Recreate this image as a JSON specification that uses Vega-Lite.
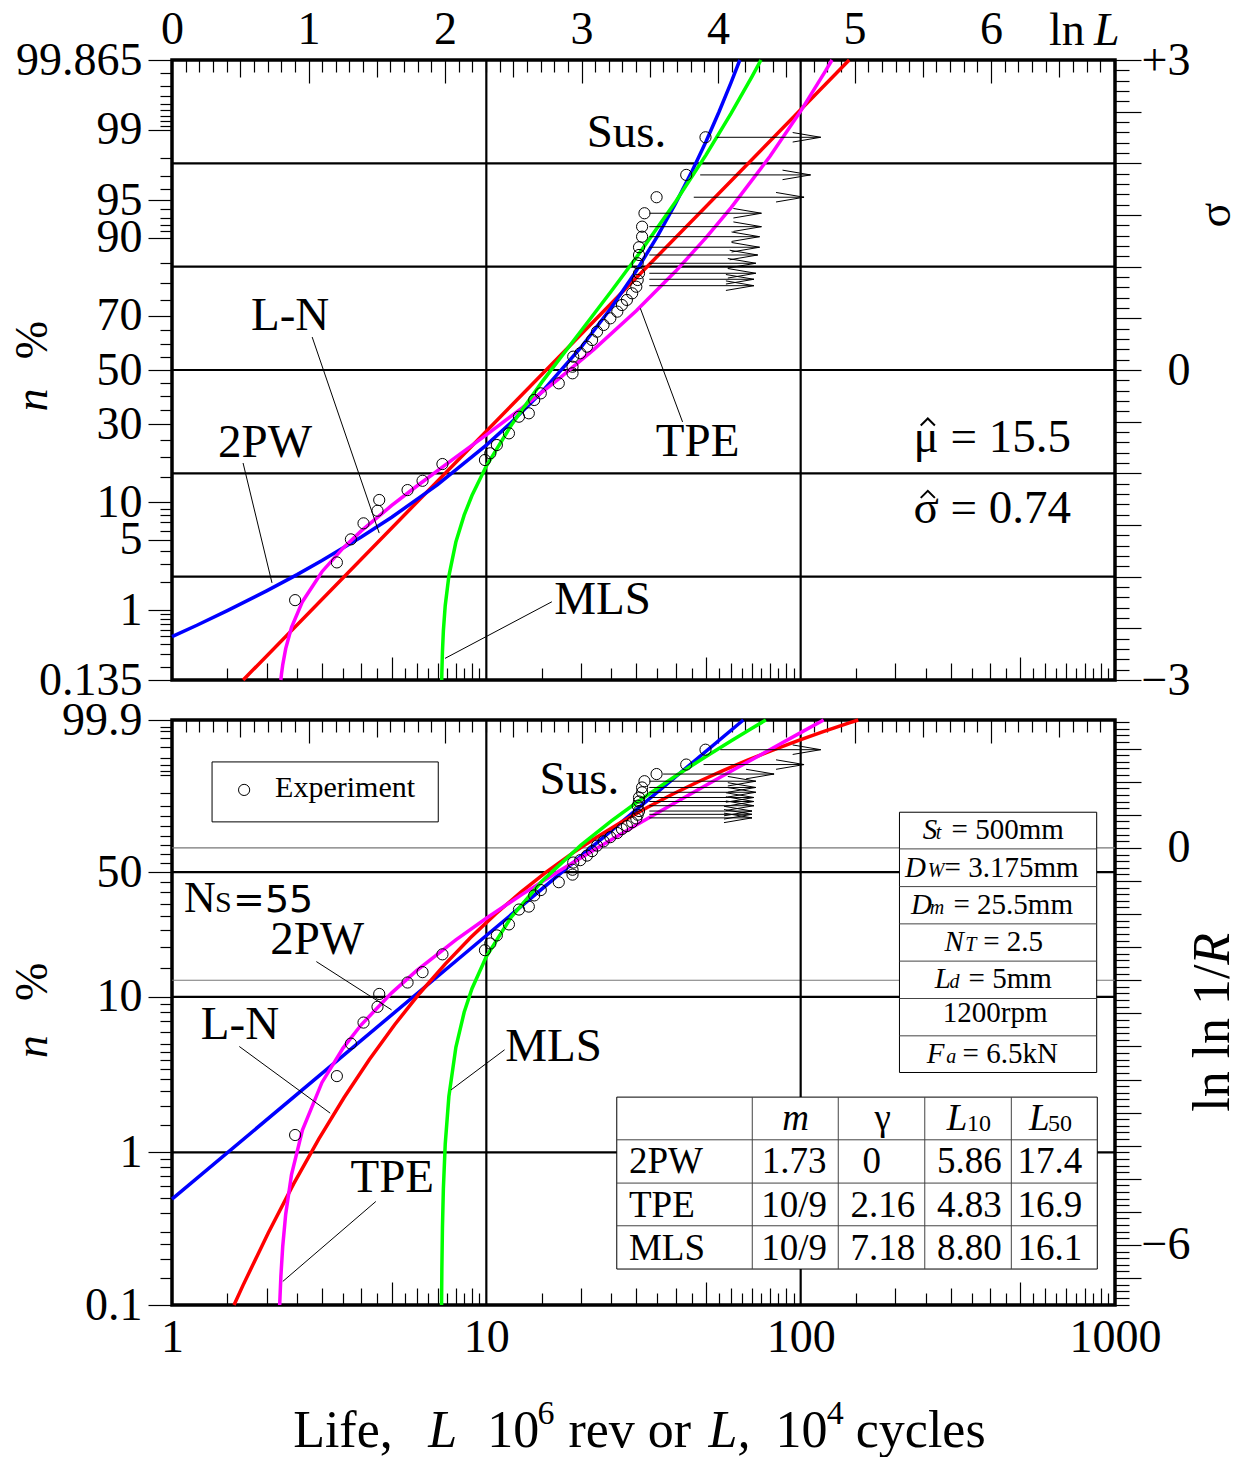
{
"$schema": "https://vega.github.io/schema/vega-lite/v6.json",
"autosize": {"type": "none"},
"padding": {"left": 172, "top": 60, "right": 1067, "bottom": 1397},
"background": "white",
"config": {
 "view": {"stroke": "black", "strokeWidth": 3.5},
 "axis": {"domain": false, "grid": false, "ticks": true, "tickColor": "black", "tickWidth": 1.2, "labels": false, "labelFont": "Liberation Serif", "labelFontSize": 46, "labelColor": "black", "labelFlush": false, "labelOverlap": false, "labelBound": false},
 "text": {"font": "Liberation Serif", "color": "black"}
},
"datasets": {
 "curves": [
  {"p":"t","c":"L-N","L":1.684,"y":-3},{"p":"t","c":"L-N","L":15.5,"y":0},{"p":"t","c":"L-N","L":142.7,"y":3},
  {"p":"t","c":"2PW","L":1,"y":-2.58},{"p":"t","c":"2PW","L":1.2,"y":-2.47},{"p":"t","c":"2PW","L":1.5,"y":-2.329},{"p":"t","c":"2PW","L":2,"y":-2.137},{"p":"t","c":"2PW","L":2.5,"y":-1.98},{"p":"t","c":"2PW","L":3,"y":-1.844},{"p":"t","c":"2PW","L":4,"y":-1.616},{"p":"t","c":"2PW","L":5,"y":-1.425},{"p":"t","c":"2PW","L":7,"y":-1.109},{"p":"t","c":"2PW","L":10,"y":-0.727},{"p":"t","c":"2PW","L":12,"y":-0.508},{"p":"t","c":"2PW","L":15,"y":-0.214},{"p":"t","c":"2PW","L":20,"y":0.218},{"p":"t","c":"2PW","L":25,"y":0.604},{"p":"t","c":"2PW","L":30,"y":0.959},{"p":"t","c":"2PW","L":35,"y":1.294},{"p":"t","c":"2PW","L":40,"y":1.611},{"p":"t","c":"2PW","L":45,"y":1.917},{"p":"t","c":"2PW","L":50,"y":2.212},{"p":"t","c":"2PW","L":55,"y":2.499},{"p":"t","c":"2PW","L":60,"y":2.778},{"p":"t","c":"2PW","L":64.04,"y":3},
  {"p":"t","c":"TPE","L":2.2191,"y":-3},{"p":"t","c":"TPE","L":2.23,"y":-2.942},{"p":"t","c":"TPE","L":2.25,"y":-2.855},{"p":"t","c":"TPE","L":2.3,"y":-2.696},{"p":"t","c":"TPE","L":2.4,"y":-2.49},{"p":"t","c":"TPE","L":2.6,"y":-2.242},{"p":"t","c":"TPE","L":3,"y":-1.952},{"p":"t","c":"TPE","L":3.5,"y":-1.724},{"p":"t","c":"TPE","L":4,"y":-1.557},{"p":"t","c":"TPE","L":5,"y":-1.311},{"p":"t","c":"TPE","L":6,"y":-1.125},{"p":"t","c":"TPE","L":8,"y":-0.844},{"p":"t","c":"TPE","L":10,"y":-0.627},{"p":"t","c":"TPE","L":13,"y":-0.366},{"p":"t","c":"TPE","L":17,"y":-0.086},{"p":"t","c":"TPE","L":22,"y":0.2},{"p":"t","c":"TPE","L":30,"y":0.573},{"p":"t","c":"TPE","L":40,"y":0.955},{"p":"t","c":"TPE","L":50,"y":1.281},{"p":"t","c":"TPE","L":60,"y":1.569},{"p":"t","c":"TPE","L":80,"y":2.07},{"p":"t","c":"TPE","L":100,"y":2.505},{"p":"t","c":"TPE","L":120,"y":2.894},{"p":"t","c":"TPE","L":125.8,"y":3},
  {"p":"t","c":"MLS","L":7.2123,"y":-3},{"p":"t","c":"MLS","L":7.22,"y":-2.926},{"p":"t","c":"MLS","L":7.25,"y":-2.728},{"p":"t","c":"MLS","L":7.3,"y":-2.525},{"p":"t","c":"MLS","L":7.4,"y":-2.279},{"p":"t","c":"MLS","L":7.6,"y":-1.994},{"p":"t","c":"MLS","L":8,"y":-1.665},{"p":"t","c":"MLS","L":8.5,"y":-1.405},{"p":"t","c":"MLS","L":9,"y":-1.2145},{"p":"t","c":"MLS","L":10,"y":-0.93},{"p":"t","c":"MLS","L":12,"y":-0.535},{"p":"t","c":"MLS","L":15,"y":-0.12},{"p":"t","c":"MLS","L":20,"y":0.378},{"p":"t","c":"MLS","L":25,"y":0.764},{"p":"t","c":"MLS","L":30,"y":1.088},{"p":"t","c":"MLS","L":40,"y":1.629},{"p":"t","c":"MLS","L":50,"y":2.082},{"p":"t","c":"MLS","L":60,"y":2.48},{"p":"t","c":"MLS","L":70,"y":2.84},{"p":"t","c":"MLS","L":74.76,"y":3},
  {"p":"b","c":"2PW","L":1,"y":-5.308},{"p":"b","c":"2PW","L":10,"y":-1.324},{"p":"b","c":"2PW","L":65.7,"y":1.9326},
  {"p":"b","c":"L-N","L":1.575,"y":-6.907},{"p":"b","c":"L-N","L":1.6835,"y":-6.607},{"p":"b","c":"L-N","L":2.0254,"y":-5.8144},{"p":"b","c":"L-N","L":2.437,"y":-5.078},{"p":"b","c":"L-N","L":2.9324,"y":-4.3982},{"p":"b","c":"L-N","L":3.528,"y":-3.772},{"p":"b","c":"L-N","L":4.2456,"y":-3.197},{"p":"b","c":"L-N","L":5.108,"y":-2.6716},{"p":"b","c":"L-N","L":6.1464,"y":-2.1923},{"p":"b","c":"L-N","L":7.395,"y":-1.7558},{"p":"b","c":"L-N","L":8.8976,"y":-1.3587},{"p":"b","c":"L-N","L":10.705,"y":-0.9971},{"p":"b","c":"L-N","L":12.882,"y":-0.6675},{"p":"b","c":"L-N","L":15.5,"y":-0.3665},{"p":"b","c":"L-N","L":18.65,"y":-0.0909},{"p":"b","c":"L-N","L":22.44,"y":0.162},{"p":"b","c":"L-N","L":27,"y":0.395},{"p":"b","c":"L-N","L":32.49,"y":0.6103},{"p":"b","c":"L-N","L":39.09,"y":0.8099},{"p":"b","c":"L-N","L":47.04,"y":0.9954},{"p":"b","c":"L-N","L":56.6,"y":1.1685},{"p":"b","c":"L-N","L":68.09,"y":1.3306},{"p":"b","c":"L-N","L":81.93,"y":1.4826},{"p":"b","c":"L-N","L":98.57,"y":1.6256},{"p":"b","c":"L-N","L":118.6,"y":1.7605},{"p":"b","c":"L-N","L":142.7,"y":1.8882},{"p":"b","c":"L-N","L":152.5,"y":1.9326},
  {"p":"b","c":"TPE","L":2.2007,"y":-6.907},{"p":"b","c":"TPE","L":2.22,"y":-6.4766},{"p":"b","c":"TPE","L":2.25,"y":-6.026},{"p":"b","c":"TPE","L":2.3,"y":-5.5351},{"p":"b","c":"TPE","L":2.4,"y":-4.9362},{"p":"b","c":"TPE","L":2.6,"y":-4.2628},{"p":"b","c":"TPE","L":3,"y":-3.5443},{"p":"b","c":"TPE","L":3.5,"y":-3.0253},{"p":"b","c":"TPE","L":4,"y":-2.673},{"p":"b","c":"TPE","L":5,"y":-2.1908},{"p":"b","c":"TPE","L":6,"y":-1.8556},{"p":"b","c":"TPE","L":8,"y":-1.3898},{"p":"b","c":"TPE","L":10,"y":-1.0626},{"p":"b","c":"TPE","L":13,"y":-0.7026},{"p":"b","c":"TPE","L":17,"y":-0.3536},{"p":"b","c":"TPE","L":22,"y":-0.0308},{"p":"b","c":"TPE","L":30,"y":0.3456},{"p":"b","c":"TPE","L":40,"y":0.6866},{"p":"b","c":"TPE","L":50,"y":0.947},{"p":"b","c":"TPE","L":60,"y":1.1579},{"p":"b","c":"TPE","L":80,"y":1.4879},{"p":"b","c":"TPE","L":100,"y":1.7421},{"p":"b","c":"TPE","L":118.3,"y":1.9326},
  {"p":"b","c":"MLS","L":7.2047,"y":-6.907},{"p":"b","c":"MLS","L":7.21,"y":-6.6892},{"p":"b","c":"MLS","L":7.22,"y":-6.3695},{"p":"b","c":"MLS","L":7.25,"y":-5.7478},{"p":"b","c":"MLS","L":7.3,"y":-5.1489},{"p":"b","c":"MLS","L":7.4,"y":-4.4753},{"p":"b","c":"MLS","L":7.6,"y":-3.7569},{"p":"b","c":"MLS","L":8,"y":-3.0135},{"p":"b","c":"MLS","L":8.5,"y":-2.4846},{"p":"b","c":"MLS","L":9,"y":-2.1277},{"p":"b","c":"MLS","L":10,"y":-1.6411},{"p":"b","c":"MLS","L":12,"y":-1.0454},{"p":"b","c":"MLS","L":15,"y":-0.5078},{"p":"b","c":"MLS","L":20,"y":0.0414},{"p":"b","c":"MLS","L":25,"y":0.4073},{"p":"b","c":"MLS","L":30,"y":0.6821},{"p":"b","c":"MLS","L":40,"y":1.086},{"p":"b","c":"MLS","L":50,"y":1.3814},{"p":"b","c":"MLS","L":60,"y":1.6147},{"p":"b","c":"MLS","L":70,"y":1.8073},{"p":"b","c":"MLS","L":77.5,"y":1.9326}
 ],
 "pts": [
  {"L":2.464,"z":-2.227,"w":-4.3386},{"L":3.346,"z":-1.862,"w":-3.4483},{"L":3.708,"z":-1.639,"w":-2.9571},{"L":4.067,"z":-1.484,"w":-2.6394},{"L":4.506,"z":-1.362,"w":-2.4015},{"L":4.563,"z":-1.258,"w":-2.207},{"L":5.615,"z":-1.162,"w":-2.034},{"L":6.267,"z":-1.072,"w":-1.8774},{"L":7.25,"z":-0.91,"w":-1.6086},{"L":9.9,"z":-0.871,"w":-1.5462},{"L":10.3,"z":-0.806,"w":-1.4444},{"L":10.8,"z":-0.726,"w":-1.3225},{"L":11.8,"z":-0.613,"w":-1.1563},{"L":12.7,"z":-0.452,"w":-0.9315},{"L":13.65,"z":-0.419,"w":-0.887},{"L":14.2,"z":-0.29,"w":-0.7182},{"L":14.9,"z":-0.226,"w":-0.6374},{"L":17,"z":-0.129,"w":-0.5185},{"L":18.8,"z":-0.032,"w":-0.4036},{"L":18.8,"z":0.032,"w":-0.3299},{"L":18.9,"z":0.129,"w":-0.2213},{"L":19.9,"z":0.162,"w":-0.1852},{"L":20.9,"z":0.226,"w":-0.1164},{"L":21.7,"z":0.29,"w":-0.0491},{"L":22.5,"z":0.371,"w":0.0341},{"L":23.6,"z":0.436,"w":0.0993},{"L":24.8,"z":0.5,"w":0.162},{"L":26.1,"z":0.565,"w":0.2244},{"L":27,"z":0.629,"w":0.2846},{"L":28,"z":0.678,"w":0.3298},{"L":29.1,"z":0.742,"w":0.3878},{"L":30,"z":0.806,"w":0.4447},{"L":30.3,"z":0.871,"w":0.5013},{"L":30.6,"z":0.936,"w":0.5568},{"L":30.3,"z":1.033,"w":0.6375},{"L":30.6,"z":1.113,"w":0.701},{"L":30.6,"z":1.188,"w":0.7617},{"L":31.3,"z":1.29,"w":0.8404},{"L":31.3,"z":1.387,"w":0.9132},{"L":31.85,"z":1.517,"w":1.0076},{"L":34.8,"z":1.672,"w":1.1158},{"L":43.25,"z":1.888,"w":1.2593},{"L":49.8,"z":2.252,"w":1.4838}
 ],
 "arrows": [
  {"z":2.252,"w":1.4838,"a0":54.1,"a1":115.8,"b0":55.5,"b1":115.8},{"z":1.888,"w":1.2593,"a0":47.9,"a1":107.5,"b0":49.1,"b1":102.5},{"z":1.672,"w":1.1158,"a0":45.7,"a1":102.5,"b0":36.5,"b1":82.3},{"z":1.517,"w":1.0076,"a0":33,"a1":75,"b0":33,"b1":72},{"z":1.387,"w":0.9132,"a0":33,"a1":75,"b0":33,"b1":72},{"z":1.29,"w":0.8404,"a0":33,"a1":74,"b0":33,"b1":72},{"z":1.188,"w":0.7617,"a0":33,"a1":74,"b0":33,"b1":71},{"z":1.113,"w":0.701,"a0":33,"a1":73,"b0":33,"b1":71},{"z":1.033,"w":0.6375,"a0":33,"a1":72,"b0":33,"b1":71},{"z":0.936,"w":0.5568,"a0":33,"a1":72,"b0":33,"b1":70},{"z":0.878,"w":0.5074,"a0":33,"a1":71,"b0":33,"b1":70},{"z":0.816,"w":0.4535,"a0":33,"a1":71,"b0":33,"b1":70}
 ],
 "labels": [
  {"p":"t","t":"Sus.","L":27.92,"y":2.294},{"p":"t","t":"L-N","L":2.376,"y":0.523},{"p":"t","t":"2PW","L":1.978,"y":-0.707},{"p":"t","t":"TPE","L":46.99,"y":-0.697},{"p":"t","t":"MLS","L":23.41,"y":-2.227},
  {"p":"b","t":"Sus.","L":19.78,"y":1.027},{"p":"b","t":"2PW","L":2.896,"y":-1.39},{"p":"b","t":"L-N","L":1.646,"y":-2.674},{"p":"b","t":"MLS","L":16.35,"y":-3.006},{"p":"b","t":"TPE","L":5.018,"y":-4.985}
 ],
 "leaders": [
  {"p":"t","x1":2.792,"y1":0.319,"x2":4.562,"y2":-1.578},{"p":"t","x1":1.683,"y1":-0.9,"x2":2.08,"y2":-2.06},{"p":"t","x1":16.16,"y1":-2.243,"x2":7.388,"y2":-2.791},{"p":"t","x1":30.9,"y1":0.597,"x2":42.1,"y2":-0.503},
  {"p":"b","x1":2.879,"y1":-1.718,"x2":4.994,"y2":-2.447},{"p":"b","x1":1.637,"y1":-3.001,"x2":3.186,"y2":-4.008},{"p":"b","x1":11.43,"y1":-3.051,"x2":7.727,"y2":-3.656},{"p":"b","x1":4.451,"y1":-5.343,"x2":2.252,"y2":-6.551}
 ]
},
"spacing": 40,
"bounds": "flush",
"vconcat": [
 {
  "width": 943, "height": 620,
  "resolve": {"axis": {"x": "independent", "y": "independent"}},
  "layer": [
   {"data": {"values": [{"z":-2},{"z":-1},{"z":0},{"z":1},{"z":2}]}, "mark": {"type": "rule", "color": "black", "strokeWidth": 2.2}, "encoding": {"y": {"field": "z", "type": "quantitative", "scale": {"domain":[-3,3],"nice":false,"zero":false}, "axis": null}}},
   {"data": {"values": [{"L":10},{"L":100}]}, "mark": {"type": "rule", "color": "black", "strokeWidth": 2.2}, "encoding": {"x": {"field": "L", "type": "quantitative", "scale": {"type":"log","domain":[1,1000],"nice":false}, "axis": null}}},
   {"data": {"name": "curves"}, "transform": [{"filter": "datum.p=='t'"}], "mark": {"type": "line", "strokeWidth": 3.5}, "encoding": {"x": {"field": "L", "type": "quantitative", "scale": {"type":"log","domain":[1,1000],"nice":false}, "axis": null}, "y": {"field": "y", "type": "quantitative", "scale": {"domain":[-3,3],"nice":false,"zero":false}, "axis": null}, "color": {"field": "c", "type": "nominal", "scale": {"domain": ["L-N","TPE","MLS","2PW"], "range": ["#ff0000","#ff00ff","#00ff00","#0000ff"]}, "legend": null}}},
   {"data": {"name": "leaders"}, "transform": [{"filter": "datum.p=='t'"}], "mark": {"type": "rule", "color": "black", "strokeWidth": 1}, "encoding": {"x": {"field": "x1", "type": "quantitative", "scale": {"type":"log","domain":[1,1000],"nice":false}, "axis": null}, "x2": {"field": "x2"}, "y": {"field": "y1", "type": "quantitative", "scale": {"domain":[-3,3],"nice":false,"zero":false}, "axis": null}, "y2": {"field": "y2"}}},
   {"data": {"name": "arrows"}, "mark": {"type": "rule", "color": "black", "strokeWidth": 1}, "encoding": {"x": {"field": "a0", "type": "quantitative", "scale": {"type":"log","domain":[1,1000],"nice":false}, "axis": null}, "x2": {"field": "a1"}, "y": {"field": "z", "type": "quantitative", "scale": {"domain":[-3,3],"nice":false,"zero":false}, "axis": null}}},
   {"data": {"name": "arrows"}, "mark": {"type": "point", "shape": "M-1,-0.17L0,0L-1,0.17", "size": 3136, "filled": false, "color": "black", "strokeWidth": 1, "opacity": 1}, "encoding": {"x": {"field": "a1", "type": "quantitative", "scale": {"type":"log","domain":[1,1000],"nice":false}, "axis": null}, "y": {"field": "z", "type": "quantitative", "scale": {"domain":[-3,3],"nice":false,"zero":false}, "axis": null}}},
   {"data": {"name": "pts"}, "mark": {"type": "point", "shape": "circle", "size": 125, "filled": false, "color": "black", "strokeWidth": 1, "opacity": 1}, "encoding": {"x": {"field": "L", "type": "quantitative", "scale": {"type":"log","domain":[1,1000],"nice":false}, "axis": null}, "y": {"field": "z", "type": "quantitative", "scale": {"domain":[-3,3],"nice":false,"zero":false}, "axis": null}}},
   {"data": {"name": "labels"}, "transform": [{"filter": "datum.p=='t'"}], "mark": {"type": "text", "fontSize": 47, "align": "center", "baseline": "middle"}, "encoding": {"x": {"field": "L", "type": "quantitative", "scale": {"type":"log","domain":[1,1000],"nice":false}, "axis": null}, "y": {"field": "y", "type": "quantitative", "scale": {"domain":[-3,3],"nice":false,"zero":false}, "axis": null}, "text": {"field": "t"}}},
   {"data": {"values": [{"t":"μ = 15.5","L":724.4,"y":-0.794},{"t":"σ = 0.74","L":724.4,"y":-1.481}]}, "mark": {"type": "text", "fontSize": 47, "align": "right", "baseline": "alphabetic"}, "encoding": {"x": {"field": "L", "type": "quantitative", "scale": {"type":"log","domain":[1,1000],"nice":false}, "axis": null}, "y": {"field": "y", "type": "quantitative", "scale": {"domain":[-3,3],"nice":false,"zero":false}, "axis": null}, "text": {"field": "t"}}},
   {"data": {"values": [{"L":253.8,"y":-0.5},{"L":253.8,"y":-1.2}]}, "mark": {"type": "point", "shape": "M-1,0.55L0,-0.45L1,0.55", "size": 200, "filled": false, "color": "black", "strokeWidth": 2, "opacity": 1}, "encoding": {"x": {"field": "L", "type": "quantitative", "scale": {"type":"log","domain":[1,1000],"nice":false}, "axis": null}, "y": {"field": "y", "type": "quantitative", "scale": {"domain":[-3,3],"nice":false,"zero":false}, "axis": null}}},
   {"data": {"values": [{"t":"n","L":0.3609,"y":-0.29}]}, "mark": {"type": "text", "fontSize": 46, "fontStyle": "italic", "angle": 270, "align": "center", "baseline": "middle"}, "encoding": {"x": {"field": "L", "type": "quantitative", "scale": {"type":"log","domain":[1,1000],"nice":false}, "axis": null}, "y": {"field": "y", "type": "quantitative", "scale": {"domain":[-3,3],"nice":false,"zero":false}, "axis": null}, "text": {"field": "t"}}},
   {"data": {"values": [{"t":"%","L":0.3609,"y":0.29},{"t":"σ","L":2097,"y":1.5}]}, "mark": {"type": "text", "fontSize": 46, "angle": 270, "align": "center", "baseline": "middle"}, "encoding": {"x": {"field": "L", "type": "quantitative", "scale": {"type":"log","domain":[1,1000],"nice":false}, "axis": null}, "y": {"field": "y", "type": "quantitative", "scale": {"domain":[-3,3],"nice":false,"zero":false}, "axis": null}, "text": {"field": "t"}}},
   {"data": {"values": [{"t":"ln","L":616.4,"y":3.146}]}, "mark": {"type": "text", "fontSize": 46, "align": "left", "baseline": "alphabetic"}, "encoding": {"x": {"field": "L", "type": "quantitative", "scale": {"type":"log","domain":[1,1000],"nice":false}, "axis": null}, "y": {"field": "y", "type": "quantitative", "scale": {"domain":[-3,3],"nice":false,"zero":false}, "axis": null}, "text": {"field": "t"}}},
   {"data": {"values": [{"t":"L","L":857.4,"y":3.146}]}, "mark": {"type": "text", "fontSize": 46, "fontStyle": "italic", "align": "left", "baseline": "alphabetic"}, "encoding": {"x": {"field": "L", "type": "quantitative", "scale": {"type":"log","domain":[1,1000],"nice":false}, "axis": null}, "y": {"field": "y", "type": "quantitative", "scale": {"domain":[-3,3],"nice":false,"zero":false}, "axis": null}, "text": {"field": "t"}}},
   {"data": {"values": [{}]}, "mark": {"type": "point", "opacity": 0}, "encoding": {"x": {"datum": 1, "type": "quantitative", "scale": {"type":"log","domain":[1,1000],"nice":false}, "axis": {"orient": "bottom", "title": null, "values": [1.5,2.5,3.5,4.5,5.5,6.5,7.5,8.5,9.5,15,25,35,45,55,65,75,85,95,150,250,350,450,550,650,750,850,950], "tickSize": -12}}, "y": {"datum": 0, "type": "quantitative", "scale": {"domain":[-3,3],"nice":false,"zero":false}, "axis": null}}},
   {"data": {"values": [{}]}, "mark": {"type": "point", "opacity": 0}, "encoding": {"x": {"datum": 1, "type": "quantitative", "scale": {"type":"log","domain":[1,1000],"nice":false}, "axis": {"orient": "bottom", "title": null, "values": [2,3,4,6,7,8,9,20,30,40,60,70,80,90,200,300,400,600,700,800,900], "tickSize": -17}}, "y": {"datum": 0, "type": "quantitative", "scale": {"domain":[-3,3],"nice":false,"zero":false}, "axis": null}}},
   {"data": {"values": [{}]}, "mark": {"type": "point", "opacity": 0}, "encoding": {"x": {"datum": 1, "type": "quantitative", "scale": {"type":"log","domain":[1,1000],"nice":false}, "axis": {"orient": "bottom", "title": null, "values": [5,50,500], "tickSize": -23}}, "y": {"datum": 0, "type": "quantitative", "scale": {"domain":[-3,3],"nice":false,"zero":false}, "axis": null}}},
   {"data": {"values": [{}]}, "mark": {"type": "point", "opacity": 0}, "encoding": {"x": {"datum": 1, "type": "quantitative", "scale": {"type":"log","domain":[1,1000],"nice":false}, "axis": {"orient": "top", "title": null, "values": [1.1052,1.2214,1.3499,1.4918,1.8221,2.0138,2.2255,2.4596,3.0042,3.3201,3.6693,4.0552,4.953,5.4739,6.0496,6.6859,8.1662,9.025,9.9742,11.0232,13.4637,14.8797,16.4446,18.1741,22.198,24.5325,27.1126,29.9641,36.5982,40.4473,44.7012,49.4024,60.3403,66.6863,73.6998,81.4509,99.4843,109.9472,121.5104,134.2898,164.0219,181.2722,200.3368,221.4064,270.4264,298.8674,330.2996,365.0375,445.8578,492.749,544.5719,601.845,735.0952,812.4058,897.8473,992.2747], "tickSize": -12}}, "y": {"datum": 0, "type": "quantitative", "scale": {"domain":[-3,3],"nice":false,"zero":false}, "axis": null}}},
   {"data": {"values": [{}]}, "mark": {"type": "point", "opacity": 0}, "encoding": {"x": {"datum": 1, "type": "quantitative", "scale": {"type":"log","domain":[1,1000],"nice":false}, "axis": {"orient": "top", "title": null, "values": [1.6487,4.4817,12.1825,33.1155,90.0171,244.6919,665.1416], "tickSize": -17}}, "y": {"datum": 0, "type": "quantitative", "scale": {"domain":[-3,3],"nice":false,"zero":false}, "axis": null}}},
   {"data": {"values": [{}]}, "mark": {"type": "point", "opacity": 0}, "encoding": {"x": {"datum": 1, "type": "quantitative", "scale": {"type":"log","domain":[1,1000],"nice":false}, "axis": {"orient": "top", "title": null, "values": [2.7183,7.3891,20.0855,54.5982,148.4132,403.4288], "tickSize": -23}}, "y": {"datum": 0, "type": "quantitative", "scale": {"domain":[-3,3],"nice":false,"zero":false}, "axis": null}}},
   {"data": {"values": [{}]}, "mark": {"type": "point", "opacity": 0}, "encoding": {"x": {"datum": 1, "type": "quantitative", "scale": {"type":"log","domain":[1,1000],"nice":false}, "axis": {"orient": "top", "title": null, "values": [1,2.7183,7.3891,20.0855,54.5982,148.4132,403.4288], "ticks": false, "labels": true, "labelPadding": 7, "labelExpr": "format(log(datum.value), '.0f')"}}, "y": {"datum": 0, "type": "quantitative", "scale": {"domain":[-3,3],"nice":false,"zero":false}, "axis": null}}},
   {"data": {"values": [{}]}, "mark": {"type": "point", "opacity": 0}, "encoding": {"x": {"datum": 1, "type": "quantitative", "scale": {"type":"log","domain":[1,1000],"nice":false}, "axis": null}, "y": {"datum": 0, "type": "quantitative", "scale": {"domain":[-3,3],"nice":false,"zero":false}, "axis": {"orient": "left", "title": null, "values": [2.8782,2.7478,2.6521,2.5758,2.5121,2.4573,2.4089,2.3656,2.0537,1.8808,1.7507,1.5548,1.4758,1.4051,1.3408,1.0364,0.8416,0.6745,0.3853,0.2533,0.1257,-0.1257,-0.2533,-0.3853,-0.6745,-0.8416,-1.0364,-1.3408,-1.4051,-1.4758,-1.5548,-1.7507,-1.8808,-2.0537,-2.3656,-2.4089,-2.4573,-2.5121,-2.5758,-2.6521,-2.7478,-2.8782], "tickSize": 12}}}},
   {"data": {"values": [{}]}, "mark": {"type": "point", "opacity": 0}, "encoding": {"x": {"datum": 1, "type": "quantitative", "scale": {"type":"log","domain":[1,1000],"nice":false}, "axis": null}, "y": {"datum": 0, "type": "quantitative", "scale": {"domain":[-3,3],"nice":false,"zero":false}, "axis": {"orient": "left", "title": null, "values": [3,2.3263,1.6449,1.2816,0.5244,0,-0.5244,-1.2816,-1.6449,-2.3263,-3], "tickSize": 24, "labels": true, "labelPadding": 6, "labelExpr": "['99.865','99','95','90','70','50','30','10','5','1','0.135'][indexof([3,2.3263,1.6449,1.2816,0.5244,0,-0.5244,-1.2816,-1.6449,-2.3263,-3], datum.value)]"}}}},
   {"data": {"values": [{}]}, "mark": {"type": "point", "opacity": 0}, "encoding": {"x": {"datum": 1, "type": "quantitative", "scale": {"type":"log","domain":[1,1000],"nice":false}, "axis": null}, "y": {"datum": 0, "type": "quantitative", "scale": {"domain":[-3,3],"nice":false,"zero":false}, "axis": {"orient": "right", "title": null, "values": [-2.9,-2.8,-2.7,-2.6,-2.4,-2.3,-2.2,-2.1,-1.9,-1.8,-1.7,-1.6,-1.4,-1.3,-1.2,-1.1,-0.9,-0.8,-0.7,-0.6,-0.4,-0.3,-0.2,-0.1,0.1,0.2,0.3,0.4,0.6,0.7,0.8,0.9,1.1,1.2,1.3,1.4,1.6,1.7,1.8,1.9,2.1,2.2,2.3,2.4,2.6,2.7,2.8,2.9], "tickSize": 14}}}},
   {"data": {"values": [{}]}, "mark": {"type": "point", "opacity": 0}, "encoding": {"x": {"datum": 1, "type": "quantitative", "scale": {"type":"log","domain":[1,1000],"nice":false}, "axis": null}, "y": {"datum": 0, "type": "quantitative", "scale": {"domain":[-3,3],"nice":false,"zero":false}, "axis": {"orient": "right", "title": null, "values": [-3,-2.5,-2,-1.5,-1,-0.5,0,0.5,1,1.5,2,2.5,3], "tickSize": 26, "labels": true, "labelAlign": "right", "labelPadding": 49, "labelExpr": "datum.value == 3 ? '+3' : datum.value == 0 ? '0' : datum.value == -3 ? '−3' : ''"}}}}
  ]
 },
 {
  "width": 943, "height": 585,
  "resolve": {"axis": {"x": "independent", "y": "independent"}},
  "layer": [
   {"data": {"values": [{"w":0},{"w":-2}]}, "mark": {"type": "rule", "color": "#777777", "strokeWidth": 1.2}, "encoding": {"y": {"field": "w", "type": "quantitative", "scale": {"domain":[-6.9073,1.9326],"nice":false,"zero":false}, "axis": null}}},
   {"data": {"values": [{"w":-0.3665},{"w":-2.2504},{"w":-4.6002}]}, "mark": {"type": "rule", "color": "black", "strokeWidth": 2.2}, "encoding": {"y": {"field": "w", "type": "quantitative", "scale": {"domain":[-6.9073,1.9326],"nice":false,"zero":false}, "axis": null}}},
   {"data": {"values": [{"L":10},{"L":100}]}, "mark": {"type": "rule", "color": "black", "strokeWidth": 2.2}, "encoding": {"x": {"field": "L", "type": "quantitative", "scale": {"type":"log","domain":[1,1000],"nice":false}, "axis": null}}},
   {"data": {"name": "curves"}, "transform": [{"filter": "datum.p=='b'"}], "mark": {"type": "line", "strokeWidth": 3.5}, "encoding": {"x": {"field": "L", "type": "quantitative", "scale": {"type":"log","domain":[1,1000],"nice":false}, "axis": null}, "y": {"field": "y", "type": "quantitative", "scale": {"domain":[-6.9073,1.9326],"nice":false,"zero":false}, "axis": null}, "color": {"field": "c", "type": "nominal", "scale": {"domain": ["L-N","TPE","MLS","2PW"], "range": ["#ff0000","#ff00ff","#00ff00","#0000ff"]}, "legend": null}}},
   {"data": {"name": "leaders"}, "transform": [{"filter": "datum.p=='b'"}], "mark": {"type": "rule", "color": "black", "strokeWidth": 1}, "encoding": {"x": {"field": "x1", "type": "quantitative", "scale": {"type":"log","domain":[1,1000],"nice":false}, "axis": null}, "x2": {"field": "x2"}, "y": {"field": "y1", "type": "quantitative", "scale": {"domain":[-6.9073,1.9326],"nice":false,"zero":false}, "axis": null}, "y2": {"field": "y2"}}},
   {"data": {"name": "arrows"}, "mark": {"type": "rule", "color": "black", "strokeWidth": 1}, "encoding": {"x": {"field": "b0", "type": "quantitative", "scale": {"type":"log","domain":[1,1000],"nice":false}, "axis": null}, "x2": {"field": "b1"}, "y": {"field": "w", "type": "quantitative", "scale": {"domain":[-6.9073,1.9326],"nice":false,"zero":false}, "axis": null}}},
   {"data": {"name": "arrows"}, "mark": {"type": "point", "shape": "M-1,-0.17L0,0L-1,0.17", "size": 3136, "filled": false, "color": "black", "strokeWidth": 1, "opacity": 1}, "encoding": {"x": {"field": "b1", "type": "quantitative", "scale": {"type":"log","domain":[1,1000],"nice":false}, "axis": null}, "y": {"field": "w", "type": "quantitative", "scale": {"domain":[-6.9073,1.9326],"nice":false,"zero":false}, "axis": null}}},
   {"data": {"name": "pts"}, "mark": {"type": "point", "shape": "circle", "size": 125, "filled": false, "color": "black", "strokeWidth": 1, "opacity": 1}, "encoding": {"x": {"field": "L", "type": "quantitative", "scale": {"type":"log","domain":[1,1000],"nice":false}, "axis": null}, "y": {"field": "w", "type": "quantitative", "scale": {"domain":[-6.9073,1.9326],"nice":false,"zero":false}, "axis": null}}},
   {"data": {"values": [{"x1":1.341,"x2":7.032,"y1":1.299,"y2":0.393},{"x1":206.2,"x2":874.5,"y1":0.539,"y2":-3.394},{"x1":26.0,"x2":878.3,"y1":-3.766,"y2":-6.364}]}, "mark": {"type": "rect", "fill": "white", "stroke": "black", "strokeWidth": 1}, "encoding": {"x": {"field": "x1", "type": "quantitative", "scale": {"type":"log","domain":[1,1000],"nice":false}, "axis": null}, "x2": {"field": "x2"}, "y": {"field": "y1", "type": "quantitative", "scale": {"domain":[-6.9073,1.9326],"nice":false,"zero":false}, "axis": null}, "y2": {"field": "y2"}}},
   {"data": {"values": [{"x1":206.2,"x2":874.5,"y1":-0.0151,"y2":-0.0151},{"x1":206.2,"x2":874.5,"y1":-0.585,"y2":-0.585},{"x1":206.2,"x2":874.5,"y1":-1.148,"y2":-1.148},{"x1":206.2,"x2":874.5,"y1":-1.711,"y2":-1.711},{"x1":206.2,"x2":874.5,"y1":-2.276,"y2":-2.276},{"x1":206.2,"x2":874.5,"y1":-2.84,"y2":-2.84},{"x1":70.15,"x2":70.15,"y1":-3.766,"y2":-6.364},{"x1":131.7,"x2":131.7,"y1":-3.766,"y2":-6.364},{"x1":248.2,"x2":248.2,"y1":-3.766,"y2":-6.364},{"x1":467.9,"x2":467.9,"y1":-3.766,"y2":-6.364},{"x1":26.0,"x2":878.3,"y1":-4.411,"y2":-4.411},{"x1":26.0,"x2":878.3,"y1":-5.065,"y2":-5.065},{"x1":26.0,"x2":878.3,"y1":-5.71,"y2":-5.71}]}, "mark": {"type": "rule", "color": "#444444", "strokeWidth": 1}, "encoding": {"x": {"field": "x1", "type": "quantitative", "scale": {"type":"log","domain":[1,1000],"nice":false}, "axis": null}, "x2": {"field": "x2"}, "y": {"field": "y1", "type": "quantitative", "scale": {"domain":[-6.9073,1.9326],"nice":false,"zero":false}, "axis": null}, "y2": {"field": "y2"}}},
   {"data": {"values": [{"L":1.696,"w":0.876}]}, "mark": {"type": "point", "shape": "circle", "size": 125, "filled": false, "color": "black", "strokeWidth": 1, "opacity": 1}, "encoding": {"x": {"field": "L", "type": "quantitative", "scale": {"type":"log","domain":[1,1000],"nice":false}, "axis": null}, "y": {"field": "w", "type": "quantitative", "scale": {"domain":[-6.9073,1.9326],"nice":false,"zero":false}, "axis": null}}},
   {"data": {"values": [{"t":"Experiment","L":2.128,"y":0.906}]}, "mark": {"type": "text", "fontSize": 30, "align": "left", "baseline": "middle"}, "encoding": {"x": {"field": "L", "type": "quantitative", "scale": {"type":"log","domain":[1,1000],"nice":false}, "axis": null}, "y": {"field": "y", "type": "quantitative", "scale": {"domain":[-6.9073,1.9326],"nice":false,"zero":false}, "axis": null}, "text": {"field": "t"}}},
   {"data": {"name": "labels"}, "transform": [{"filter": "datum.p=='b'"}], "mark": {"type": "text", "fontSize": 47, "align": "center", "baseline": "middle"}, "encoding": {"x": {"field": "L", "type": "quantitative", "scale": {"type":"log","domain":[1,1000],"nice":false}, "axis": null}, "y": {"field": "y", "type": "quantitative", "scale": {"domain":[-6.9073,1.9326],"nice":false,"zero":false}, "axis": null}, "text": {"field": "t"}}},
   {"data": {"values": [{"t":"N","L":1.092,"y":-0.962}]}, "mark": {"type": "text", "fontSize": 44, "align": "left", "baseline": "alphabetic"}, "encoding": {"x": {"field": "L", "type": "quantitative", "scale": {"type":"log","domain":[1,1000],"nice":false}, "axis": null}, "y": {"field": "y", "type": "quantitative", "scale": {"domain":[-6.9073,1.9326],"nice":false,"zero":false}, "axis": null}, "text": {"field": "t"}}},
   {"data": {"values": [{"t":"S","L":1.371,"y":-0.962}]}, "mark": {"type": "text", "fontSize": 30, "align": "left", "baseline": "alphabetic"}, "encoding": {"x": {"field": "L", "type": "quantitative", "scale": {"type":"log","domain":[1,1000],"nice":false}, "axis": null}, "y": {"field": "y", "type": "quantitative", "scale": {"domain":[-6.9073,1.9326],"nice":false,"zero":false}, "axis": null}, "text": {"field": "t"}}},
   {"data": {"values": [{"t":"=55","L":1.564,"y":-0.962}]}, "mark": {"type": "text", "fontSize": 38, "font": "DejaVu Sans", "align": "left", "baseline": "alphabetic"}, "encoding": {"x": {"field": "L", "type": "quantitative", "scale": {"type":"log","domain":[1,1000],"nice":false}, "axis": null}, "y": {"field": "y", "type": "quantitative", "scale": {"domain":[-6.9073,1.9326],"nice":false,"zero":false}, "axis": null}, "text": {"field": "t"}}},
   {"data": {"values": [{"t":"S","L":244.6,"y":0.131},{"t":"D","L":214.9,"y":-0.434},{"t":"D","L":224.4,"y":-0.997},{"t":"N","L":286.8,"y":-1.551},{"t":"L","L":267.0,"y":-2.119},{"t":"F","L":251.9,"y":-3.252}]}, "mark": {"type": "text", "fontSize": 29, "fontStyle": "italic", "align": "left", "baseline": "alphabetic"}, "encoding": {"x": {"field": "L", "type": "quantitative", "scale": {"type":"log","domain":[1,1000],"nice":false}, "axis": null}, "y": {"field": "y", "type": "quantitative", "scale": {"domain":[-6.9073,1.9326],"nice":false,"zero":false}, "axis": null}, "text": {"field": "t"}}},
   {"data": {"values": [{"t":"t","L":268.9,"y":0.131},{"t":"W","L":253.7,"y":-0.434},{"t":"m","L":257.5,"y":-0.997},{"t":"T","L":334.0,"y":-1.551},{"t":"d","L":297.4,"y":-2.119},{"t":"a","L":290.5,"y":-3.252}]}, "mark": {"type": "text", "fontSize": 20, "fontStyle": "italic", "align": "left", "baseline": "alphabetic"}, "encoding": {"x": {"field": "L", "type": "quantitative", "scale": {"type":"log","domain":[1,1000],"nice":false}, "axis": null}, "y": {"field": "y", "type": "quantitative", "scale": {"domain":[-6.9073,1.9326],"nice":false,"zero":false}, "axis": null}, "text": {"field": "t"}}},
   {"data": {"values": [{"t":"= 500mm","L":302.0,"y":0.131},{"t":"= 3.175mm","L":287.0,"y":-0.434},{"t":"= 25.5mm","L":306.3,"y":-0.997},{"t":"= 2.5","L":380.6,"y":-1.551},{"t":"= 5mm","L":342.0,"y":-2.119},{"t":"= 6.5kN","L":327.5,"y":-3.252}]}, "mark": {"type": "text", "fontSize": 29, "align": "left", "baseline": "alphabetic"}, "encoding": {"x": {"field": "L", "type": "quantitative", "scale": {"type":"log","domain":[1,1000],"nice":false}, "axis": null}, "y": {"field": "y", "type": "quantitative", "scale": {"domain":[-6.9073,1.9326],"nice":false,"zero":false}, "axis": null}, "text": {"field": "t"}}},
   {"data": {"values": [{"t":"1200rpm","L":415.7,"y":-2.624}]}, "mark": {"type": "text", "fontSize": 29, "align": "center", "baseline": "alphabetic"}, "encoding": {"x": {"field": "L", "type": "quantitative", "scale": {"type":"log","domain":[1,1000],"nice":false}, "axis": null}, "y": {"field": "y", "type": "quantitative", "scale": {"domain":[-6.9073,1.9326],"nice":false,"zero":false}, "axis": null}, "text": {"field": "t"}}},
   {"data": {"values": [{"t":"2PW","L":28.43,"y":-4.914},{"t":"TPE","L":28.43,"y":-5.57},{"t":"MLS","L":28.43,"y":-6.224}]}, "mark": {"type": "text", "fontSize": 37, "align": "left", "baseline": "alphabetic"}, "encoding": {"x": {"field": "L", "type": "quantitative", "scale": {"type":"log","domain":[1,1000],"nice":false}, "axis": null}, "y": {"field": "y", "type": "quantitative", "scale": {"domain":[-6.9073,1.9326],"nice":false,"zero":false}, "axis": null}, "text": {"field": "t"}}},
   {"data": {"values": [{"t":"1.73","L":95.3,"y":-4.914},{"t":"0","L":168.3,"y":-4.914},{"t":"5.86","L":344.3,"y":-4.914},{"t":"17.4","L":620.9,"y":-4.914},{"t":"10/9","L":95.3,"y":-5.57},{"t":"2.16","L":182.5,"y":-5.57},{"t":"4.83","L":344.3,"y":-5.57},{"t":"16.9","L":620.9,"y":-5.57},{"t":"10/9","L":95.3,"y":-6.224},{"t":"7.18","L":182.5,"y":-6.224},{"t":"8.80","L":344.3,"y":-6.224},{"t":"16.1","L":620.9,"y":-6.224},{"t":"γ","L":182.5,"y":-4.26}]}, "mark": {"type": "text", "fontSize": 37, "align": "center", "baseline": "alphabetic"}, "encoding": {"x": {"field": "L", "type": "quantitative", "scale": {"type":"log","domain":[1,1000],"nice":false}, "axis": null}, "y": {"field": "y", "type": "quantitative", "scale": {"domain":[-6.9073,1.9326],"nice":false,"zero":false}, "axis": null}, "text": {"field": "t"}}},
   {"data": {"values": [{"t":"m","L":96.4,"y":-4.26}]}, "mark": {"type": "text", "fontSize": 37, "fontStyle": "italic", "align": "center", "baseline": "alphabetic"}, "encoding": {"x": {"field": "L", "type": "quantitative", "scale": {"type":"log","domain":[1,1000],"nice":false}, "axis": null}, "y": {"field": "y", "type": "quantitative", "scale": {"domain":[-6.9073,1.9326],"nice":false,"zero":false}, "axis": null}, "text": {"field": "t"}}},
   {"data": {"values": [{"t":"L","L":291.7,"y":-4.26},{"t":"L","L":532.2,"y":-4.26}]}, "mark": {"type": "text", "fontSize": 37, "fontStyle": "italic", "align": "left", "baseline": "alphabetic"}, "encoding": {"x": {"field": "L", "type": "quantitative", "scale": {"type":"log","domain":[1,1000],"nice":false}, "axis": null}, "y": {"field": "y", "type": "quantitative", "scale": {"domain":[-6.9073,1.9326],"nice":false,"zero":false}, "axis": null}, "text": {"field": "t"}}},
   {"data": {"values": [{"t":"10","L":337.9,"y":-4.28},{"t":"50","L":611.8,"y":-4.28}]}, "mark": {"type": "text", "fontSize": 24, "align": "left", "baseline": "alphabetic"}, "encoding": {"x": {"field": "L", "type": "quantitative", "scale": {"type":"log","domain":[1,1000],"nice":false}, "axis": null}, "y": {"field": "y", "type": "quantitative", "scale": {"domain":[-6.9073,1.9326],"nice":false,"zero":false}, "axis": null}, "text": {"field": "t"}}},
   {"data": {"values": [{"t":"Life,","L":2.429,"y":-9.048},{"t":"10","L":10.07,"y":-9.048},{"t":"rev or","L":18.24,"y":-9.048},{"t":"10","L":83.24,"y":-9.048},{"t":"cycles","L":149.7,"y":-9.048}]}, "mark": {"type": "text", "fontSize": 52, "align": "left", "baseline": "alphabetic"}, "encoding": {"x": {"field": "L", "type": "quantitative", "scale": {"type":"log","domain":[1,1000],"nice":false}, "axis": null}, "y": {"field": "y", "type": "quantitative", "scale": {"domain":[-6.9073,1.9326],"nice":false,"zero":false}, "axis": null}, "text": {"field": "t"}}},
   {"data": {"values": [{"t":"L","L":6.537,"y":-9.048},{"t":"L,","L":50.93,"y":-9.048}]}, "mark": {"type": "text", "fontSize": 52, "fontStyle": "italic", "align": "left", "baseline": "alphabetic"}, "encoding": {"x": {"field": "L", "type": "quantitative", "scale": {"type":"log","domain":[1,1000],"nice":false}, "axis": null}, "y": {"field": "y", "type": "quantitative", "scale": {"domain":[-6.9073,1.9326],"nice":false,"zero":false}, "axis": null}, "text": {"field": "t"}}},
   {"data": {"values": [{"t":"6","L":14.54,"y":-8.7},{"t":"4","L":121.0,"y":-8.7}]}, "mark": {"type": "text", "fontSize": 34, "align": "left", "baseline": "alphabetic"}, "encoding": {"x": {"field": "L", "type": "quantitative", "scale": {"type":"log","domain":[1,1000],"nice":false}, "axis": null}, "y": {"field": "y", "type": "quantitative", "scale": {"domain":[-6.9073,1.9326],"nice":false,"zero":false}, "axis": null}, "text": {"field": "t"}}},
   {"data": {"values": [{"t":"n","L":0.3609,"y":-3.006}]}, "mark": {"type": "text", "fontSize": 46, "fontStyle": "italic", "angle": 270, "align": "center", "baseline": "middle"}, "encoding": {"x": {"field": "L", "type": "quantitative", "scale": {"type":"log","domain":[1,1000],"nice":false}, "axis": null}, "y": {"field": "y", "type": "quantitative", "scale": {"domain":[-6.9073,1.9326],"nice":false,"zero":false}, "axis": null}, "text": {"field": "t"}}},
   {"data": {"values": [{"t":"%","L":0.3609,"y":-2.024}]}, "mark": {"type": "text", "fontSize": 46, "angle": 270, "align": "center", "baseline": "middle"}, "encoding": {"x": {"field": "L", "type": "quantitative", "scale": {"type":"log","domain":[1,1000],"nice":false}, "axis": null}, "y": {"field": "y", "type": "quantitative", "scale": {"domain":[-6.9073,1.9326],"nice":false,"zero":false}, "axis": null}, "text": {"field": "t"}}},
   {"data": {"values": [{"t":"ln ln 1/","L":2307,"y":-3.988}]}, "mark": {"type": "text", "fontSize": 52, "angle": 270, "align": "left", "baseline": "alphabetic"}, "encoding": {"x": {"field": "L", "type": "quantitative", "scale": {"type":"log","domain":[1,1000],"nice":false}, "axis": null}, "y": {"field": "y", "type": "quantitative", "scale": {"domain":[-6.9073,1.9326],"nice":false,"zero":false}, "axis": null}, "text": {"field": "t"}}},
   {"data": {"values": [{"t":"R","L":2307,"y":-1.767}]}, "mark": {"type": "text", "fontSize": 52, "fontStyle": "italic", "angle": 270, "align": "left", "baseline": "alphabetic"}, "encoding": {"x": {"field": "L", "type": "quantitative", "scale": {"type":"log","domain":[1,1000],"nice":false}, "axis": null}, "y": {"field": "y", "type": "quantitative", "scale": {"domain":[-6.9073,1.9326],"nice":false,"zero":false}, "axis": null}, "text": {"field": "t"}}},
   {"data": {"values": [{}]}, "mark": {"type": "point", "opacity": 0}, "encoding": {"x": {"datum": 1, "type": "quantitative", "scale": {"type":"log","domain":[1,1000],"nice":false}, "axis": {"orient": "bottom", "title": null, "values": [1.5,2.5,3.5,4.5,5.5,6.5,7.5,8.5,9.5,15,25,35,45,55,65,75,85,95,150,250,350,450,550,650,750,850,950], "tickSize": -12}}, "y": {"datum": 0, "type": "quantitative", "scale": {"domain":[-6.9073,1.9326],"nice":false,"zero":false}, "axis": null}}},
   {"data": {"values": [{}]}, "mark": {"type": "point", "opacity": 0}, "encoding": {"x": {"datum": 1, "type": "quantitative", "scale": {"type":"log","domain":[1,1000],"nice":false}, "axis": {"orient": "bottom", "title": null, "values": [2,3,4,6,7,8,9,20,30,40,60,70,80,90,200,300,400,600,700,800,900], "tickSize": -17}}, "y": {"datum": 0, "type": "quantitative", "scale": {"domain":[-6.9073,1.9326],"nice":false,"zero":false}, "axis": null}}},
   {"data": {"values": [{}]}, "mark": {"type": "point", "opacity": 0}, "encoding": {"x": {"datum": 1, "type": "quantitative", "scale": {"type":"log","domain":[1,1000],"nice":false}, "axis": {"orient": "bottom", "title": null, "values": [5,50,500], "tickSize": -23}}, "y": {"datum": 0, "type": "quantitative", "scale": {"domain":[-6.9073,1.9326],"nice":false,"zero":false}, "axis": null}}},
   {"data": {"values": [{}]}, "mark": {"type": "point", "opacity": 0}, "encoding": {"x": {"datum": 1, "type": "quantitative", "scale": {"type":"log","domain":[1,1000],"nice":false}, "axis": {"orient": "bottom", "title": null, "values": [1,10,100,1000], "ticks": false, "labels": true, "labelPadding": 10, "labelExpr": "format(datum.value, 'd')"}}, "y": {"datum": 0, "type": "quantitative", "scale": {"domain":[-6.9073,1.9326],"nice":false,"zero":false}, "axis": null}}},
   {"data": {"values": [{}]}, "mark": {"type": "point", "opacity": 0}, "encoding": {"x": {"datum": 1, "type": "quantitative", "scale": {"type":"log","domain":[1,1000],"nice":false}, "axis": {"orient": "top", "title": null, "values": [1.1052,1.2214,1.3499,1.4918,1.8221,2.0138,2.2255,2.4596,3.0042,3.3201,3.6693,4.0552,4.953,5.4739,6.0496,6.6859,8.1662,9.025,9.9742,11.0232,13.4637,14.8797,16.4446,18.1741,22.198,24.5325,27.1126,29.9641,36.5982,40.4473,44.7012,49.4024,60.3403,66.6863,73.6998,81.4509,99.4843,109.9472,121.5104,134.2898,164.0219,181.2722,200.3368,221.4064,270.4264,298.8674,330.2996,365.0375,445.8578,492.749,544.5719,601.845,735.0952,812.4058,897.8473,992.2747], "tickSize": -12}}, "y": {"datum": 0, "type": "quantitative", "scale": {"domain":[-6.9073,1.9326],"nice":false,"zero":false}, "axis": null}}},
   {"data": {"values": [{}]}, "mark": {"type": "point", "opacity": 0}, "encoding": {"x": {"datum": 1, "type": "quantitative", "scale": {"type":"log","domain":[1,1000],"nice":false}, "axis": {"orient": "top", "title": null, "values": [1.6487,4.4817,12.1825,33.1155,90.0171,244.6919,665.1416], "tickSize": -17}}, "y": {"datum": 0, "type": "quantitative", "scale": {"domain":[-6.9073,1.9326],"nice":false,"zero":false}, "axis": null}}},
   {"data": {"values": [{}]}, "mark": {"type": "point", "opacity": 0}, "encoding": {"x": {"datum": 1, "type": "quantitative", "scale": {"type":"log","domain":[1,1000],"nice":false}, "axis": {"orient": "top", "title": null, "values": [2.7183,7.3891,20.0855,54.5982,148.4132,403.4288], "tickSize": -23}}, "y": {"datum": 0, "type": "quantitative", "scale": {"domain":[-6.9073,1.9326],"nice":false,"zero":false}, "axis": null}}},
   {"data": {"values": [{}]}, "mark": {"type": "point", "opacity": 0}, "encoding": {"x": {"datum": 1, "type": "quantitative", "scale": {"type":"log","domain":[1,1000],"nice":false}, "axis": null}, "y": {"datum": 0, "type": "quantitative", "scale": {"domain":[-6.9073,1.9326],"nice":false,"zero":false}, "axis": {"orient": "left", "title": null, "values": [1.8269,1.7594,1.6674,1.5272,1.3641,1.2547,1.169,1.0972,0.834,0.6404,0.4759,0.3266,0.1856,0.0486,-0.0874,-0.225,-0.5144,-0.6717,-0.8422,-1.0309,-1.2459,-1.5,-1.817,-2.3612,-2.4843,-2.6232,-2.7827,-2.9702,-3.0783,-3.1985,-3.3346,-3.4913,-3.6763,-3.9019,-4.1922,-4.706,-4.8243,-4.9583,-5.1129,-5.2958,-5.5194,-5.8078,-5.9903,-6.2136,-6.5017], "tickSize": 12}}}},
   {"data": {"values": [{}]}, "mark": {"type": "point", "opacity": 0}, "encoding": {"x": {"datum": 1, "type": "quantitative", "scale": {"type":"log","domain":[1,1000],"nice":false}, "axis": null}, "y": {"datum": 0, "type": "quantitative", "scale": {"domain":[-6.9073,1.9326],"nice":false,"zero":false}, "axis": {"orient": "left", "title": null, "values": [1.9326,-0.3665,-2.2504,-4.6002,-6.9073], "tickSize": 24, "labels": true, "labelPadding": 6, "labelExpr": "['99.9','50','10','1','0.1'][indexof([1.9326,-0.3665,-2.2504,-4.6002,-6.9073], datum.value)]"}}}},
   {"data": {"values": [{}]}, "mark": {"type": "point", "opacity": 0}, "encoding": {"x": {"datum": 1, "type": "quantitative", "scale": {"type":"log","domain":[1,1000],"nice":false}, "axis": null}, "y": {"datum": 0, "type": "quantitative", "scale": {"domain":[-6.9073,1.9326],"nice":false,"zero":false}, "axis": {"orient": "right", "title": null, "values": [-6.9,-6.8,-6.7,-6.6,-6.4,-6.3,-6.2,-6.1,-5.9,-5.8,-5.7,-5.6,-5.4,-5.3,-5.2,-5.1,-4.9,-4.8,-4.7,-4.6,-4.4,-4.3,-4.2,-4.1,-3.9,-3.8,-3.7,-3.6,-3.4,-3.3,-3.2,-3.1,-2.9,-2.8,-2.7,-2.6,-2.4,-2.3,-2.2,-2.1,-1.9,-1.8,-1.7,-1.6,-1.4,-1.3,-1.2,-1.1,-0.9,-0.8,-0.7,-0.6,-0.4,-0.3,-0.2,-0.1,0.1,0.2,0.3,0.4,0.6,0.7,0.8,0.9,1.1,1.2,1.3,1.4,1.6,1.7,1.8,1.9], "tickSize": 14}}}},
   {"data": {"values": [{}]}, "mark": {"type": "point", "opacity": 0}, "encoding": {"x": {"datum": 1, "type": "quantitative", "scale": {"type":"log","domain":[1,1000],"nice":false}, "axis": null}, "y": {"datum": 0, "type": "quantitative", "scale": {"domain":[-6.9073,1.9326],"nice":false,"zero":false}, "axis": {"orient": "right", "title": null, "values": [-6.5,-6,-5.5,-5,-4.5,-4,-3.5,-3,-2.5,-2,-1.5,-1,-0.5,0,0.5,1,1.5], "tickSize": 26, "labels": true, "labelAlign": "right", "labelPadding": 49, "labelExpr": "datum.value == 0 ? '0' : datum.value == -6 ? '−6' : ''"}}}}
  ]
 }
]
}
